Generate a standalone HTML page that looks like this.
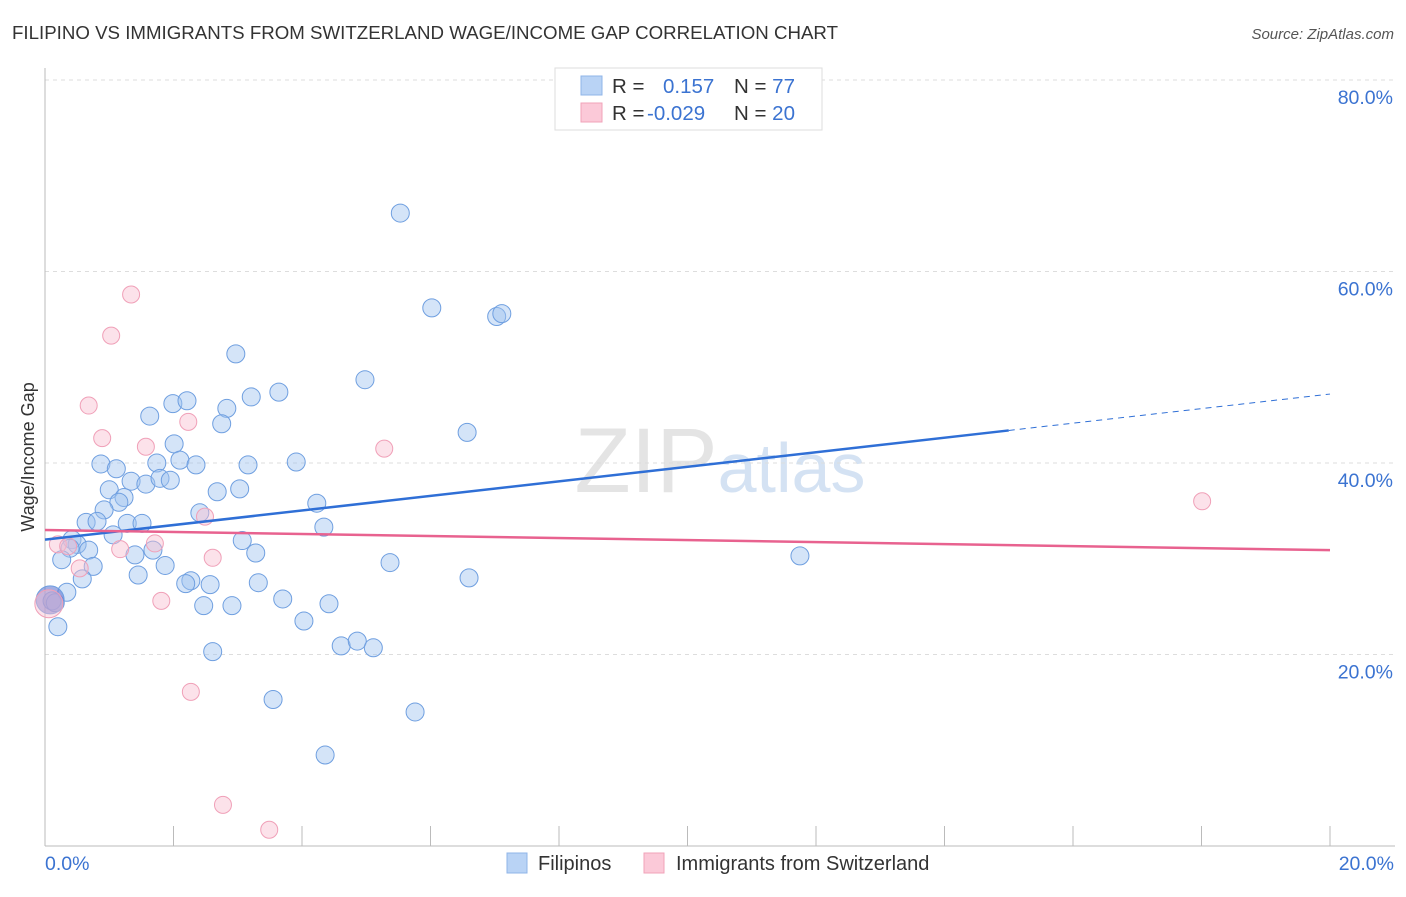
<!DOCTYPE html>
<html><head><meta charset="utf-8"><style>
body{margin:0;background:#fff;font-family:"Liberation Sans",sans-serif}
svg text{font-family:"Liberation Sans",sans-serif}
</style></head><body>
<svg id="c" width="1406" height="892">
<text x="12" y="39" font-size="18.5" fill="#333" textLength="826" lengthAdjust="spacingAndGlyphs">FILIPINO VS IMMIGRANTS FROM SWITZERLAND WAGE/INCOME GAP CORRELATION CHART</text>
<text x="1394" y="39" font-size="15" fill="#555" text-anchor="end" font-style="italic">Source: ZipAtlas.com</text>
<text x="720" y="492" font-size="92" fill="#e4e4e4" text-anchor="middle" font-family="Liberation Serif">ZIP<tspan fill="#d4e2f3" font-family="Liberation Sans" font-size="70">atlas</tspan></text>
<g id="grid"></g><g id="ticks"></g>
<line x1="45" y1="68" x2="45" y2="846" stroke="#bbb"/>
<line x1="45" y1="846" x2="1395" y2="846" stroke="#bbb"/>
<text transform="translate(34,457) rotate(-90)" font-size="18" fill="#333" text-anchor="middle">Wage/Income Gap</text>
<text x="45" y="870" font-size="19.5" fill="#3b73d1">0.0%</text>
<text x="1394" y="870" font-size="19.5" fill="#3b73d1" text-anchor="end">20.0%</text>
<g id="pts"></g><g id="lines"></g>
<g>
<rect x="555" y="68" width="267" height="62" fill="#fff" stroke="#ddd"/>
<rect x="581" y="76" width="21" height="19" fill="#b9d3f5" stroke="#8fb5e8"/>
<rect x="581" y="103" width="21" height="19" fill="#fbc9d8" stroke="#f0a3b9"/>
<text x="612" y="93" font-size="20.5" fill="#333">R = <tspan fill="#3b73d1" x="663">0.157</tspan><tspan x="734" fill="#333">N = </tspan><tspan fill="#3b73d1">77</tspan></text>
<text x="612" y="120" font-size="20.5" fill="#333">R = <tspan fill="#3b73d1" x="647">-0.029</tspan><tspan x="734" fill="#333">N = </tspan><tspan fill="#3b73d1">20</tspan></text>
</g>
<g>
<rect x="507" y="853" width="20" height="20" fill="#b9d3f5" stroke="#8fb5e8"/>
<text x="538" y="870" font-size="20" fill="#333">Filipinos</text>
<rect x="644" y="853" width="20" height="20" fill="#fbc9d8" stroke="#f0a3b9"/>
<text x="676" y="870" font-size="20" fill="#333">Immigrants from Switzerland</text>
</g>
</svg>
<script>
const yTicks=[20,40,60,80];
const xTicks=[0,2,4,6,8,10,12,14,16,18,20];
const blueX=[5.53,6.02,7.03,7.11,2.97,4.98,3.64,3.21,1.63,1.99,2.21,2.83,2.75,6.57,2.01,0.87,1.74,2.10,2.35,3.16,3.91,1.11,1.34,1.57,1.79,1.95,1.00,1.23,2.68,3.03,1.15,0.92,4.23,2.41,0.64,0.81,1.28,1.51,4.34,3.07,1.06,0.42,0.50,0.68,0.39,1.68,1.40,3.28,0.26,1.87,0.75,5.37,11.75,1.45,0.58,6.60,2.27,2.19,2.57,3.32,0.34,3.70,2.47,2.91,4.42,0.11,0.16,4.03,0.20,4.61,4.86,5.11,2.61,3.55,5.76,4.36,0.08];
const blueY=[66.1,56.2,55.3,55.6,51.4,48.7,47.4,46.9,44.9,46.2,46.5,45.7,44.1,43.2,42.0,39.9,40.0,40.3,39.8,39.8,40.1,39.4,38.1,37.8,38.4,38.2,37.2,36.4,37.0,37.3,35.9,35.1,35.8,34.8,33.8,33.9,33.7,33.7,33.3,31.9,32.5,32.0,31.5,30.9,31.1,30.9,30.4,30.6,29.9,29.3,29.2,29.6,30.3,28.3,27.9,28.0,27.7,27.4,27.3,27.5,26.5,25.8,25.1,25.1,25.3,25.6,25.4,23.5,22.9,20.9,21.4,20.7,20.3,15.3,14.0,9.5,25.7];
const pinkX=[1.34,1.03,0.68,0.89,2.23,1.57,5.28,2.49,18.01,1.71,0.20,1.17,0.36,2.61,0.54,1.81,0.06,2.27,2.77,3.49];
const pinkY=[57.6,53.3,46.0,42.6,44.3,41.7,41.5,34.4,36.0,31.6,31.5,31.0,31.3,30.1,29.0,25.6,25.3,16.1,4.3,1.7];
const blueTrend=[32.0,47.2];
const pinkTrend=[33.0,30.9];
const X=v=>45+v*64.25, Y=v=>846-v*9.575;
const NS="http://www.w3.org/2000/svg";
function mk(t,a,p){const e=document.createElementNS(NS,t);for(const k in a)e.setAttribute(k,a[k]);p.appendChild(e);return e;}
const grid=document.getElementById('grid'),ticks=document.getElementById('ticks'),pts=document.getElementById('pts'),lines=document.getElementById('lines');
yTicks.forEach(v=>{
 const l=mk('line',{x1:45,x2:1395,y1:Y(v),y2:Y(v),stroke:'#ddd','stroke-dasharray':'4,4'},grid);
 
 
 const t=mk('text',{x:1393,y:Y(v)+24,'font-size':19.5,fill:'#3b73d1','text-anchor':'end'},grid);
 t.textContent=v.toFixed(1)+'%';
 
 
});
xTicks.forEach(v=>{
 const l=mk('line',{x1:X(v),x2:X(v),y1:826,y2:846,stroke:'#bbb'},ticks);
 
 
});
blueX.forEach((v,i)=>{
 const big=i===blueX.length-1;
 const c=mk('circle',{cx:X(v),cy:Y(blueY[i]),r:big?14:9,fill:big?'rgba(100,120,210,0.6)':'rgba(160,196,240,0.45)',stroke:'#6f9fe0','stroke-width':1},pts);
 
 
});
pinkX.forEach((v,i)=>{
 const big=i===16;
 const c=mk('circle',{cx:X(v),cy:Y(pinkY[i]),r:big?14:8.5,fill:'rgba(248,190,208,0.45)',stroke:'#f0a0b8','stroke-width':1},pts);
 
 
});
const bY=x=>blueTrend[0]+(blueTrend[1]-blueTrend[0])*x/20;
let l=mk('line',{x1:X(0),y1:Y(bY(0)),x2:X(15),y2:Y(bY(15)),stroke:'#2f6fd6','stroke-width':2.5},lines);


l=mk('line',{x1:X(15),y1:Y(bY(15)),x2:X(20),y2:Y(bY(20)),stroke:'#2f6fd6','stroke-width':1,'stroke-dasharray':'6,5'},lines);


l=mk('line',{x1:X(0),y1:Y(pinkTrend[0]),x2:X(20),y2:Y(pinkTrend[1]),stroke:'#e8628f','stroke-width':2.5},lines);


</script>
</body></html>
